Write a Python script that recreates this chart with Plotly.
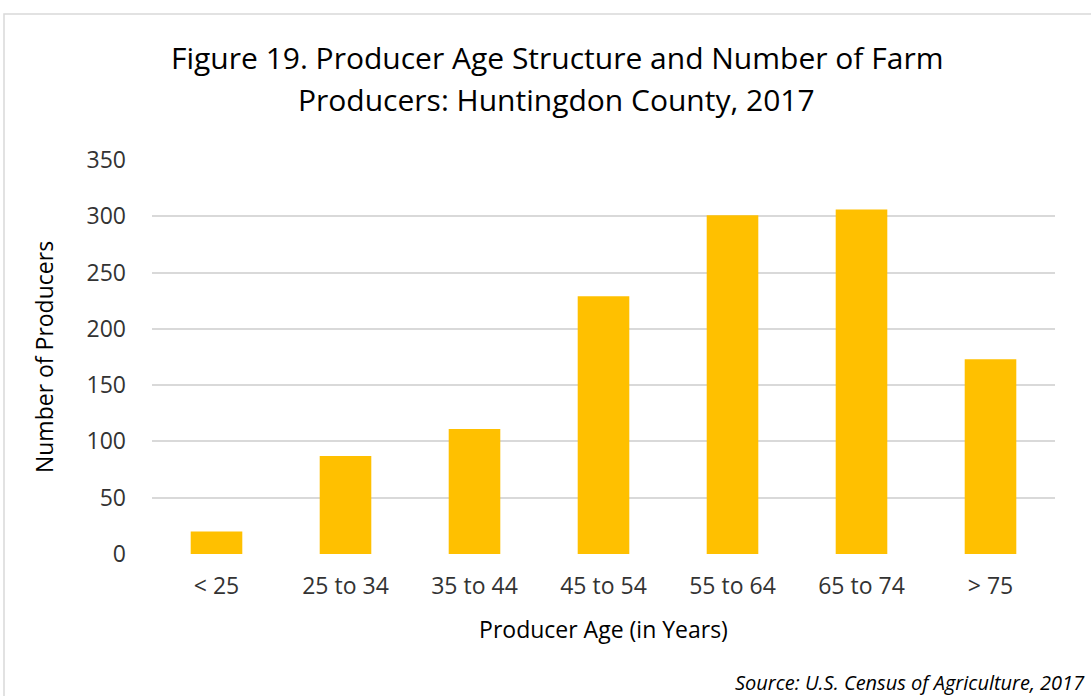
import plotly.graph_objects as go

age_groups = ['< 25', '25 to 34', '35 to 44', '45 to 54', '55 to 64', '65 to 74', '> 75']
producers = [20, 87, 111, 229, 301, 306, 173]
y_ticks = [0, 50, 100, 150, 200, 250, 300, 350]
title_lines = ['Figure 19. Producer Age Structure and Number of Farm',
               'Producers: Huntingdon County, 2017']
source_text = 'Source: U.S. Census of Agriculture, 2017'

font_family = "'Open Sans', sans-serif"

fig = go.Figure()

fig.add_trace(go.Bar(x=age_groups,
                     y=producers,
                     marker=dict(color='#FFC000', line=dict(width=0)),
                     showlegend=False))

fig.update_layout(
    width=1091, height=696,
    margin=dict(l=152, r=36, t=160, b=142),
    paper_bgcolor='white', plot_bgcolor='white',
    bargap=0.6,
    font=dict(family=font_family, color='#333333', size=23))

fig.update_yaxes(range=[0, 350], tickvals=y_ticks,
                 showgrid=True, gridcolor='#d9d9d9', gridwidth=1.5,
                 zeroline=False, showline=False, ticks='',
                 tickfont=dict(size=23, color='#333333'),
                 ticklabelstandoff=25,
                 title=dict(text='Number of Producers', standoff=26,
                            font=dict(size=23, color='#000000')))

fig.update_xaxes(showgrid=False, showline=False, ticks='',
                 tickfont=dict(size=23, color='#333333'),
                 ticklabelstandoff=16,
                 title=dict(text='Producer Age (in Years)', standoff=21,
                            font=dict(size=23, color='#000000')))

# outer border of the chart box
fig.add_shape(type='rect', xref='paper', yref='paper',
              x0=-0.1639, x1=1.043, y0=-0.37, y1=1.3706,
              line=dict(color='#d9d9d9', width=1.5), fillcolor='rgba(0,0,0,0)',
              layer='below')

# two title lines, spaced like the original
for txt, yy in zip(title_lines, [1.2614, 1.1523]):
    fig.add_annotation(text=txt, xref='paper', yref='paper', x=0.448, y=yy,
                       xanchor='center', yanchor='middle', showarrow=False,
                       font=dict(size=30, color='#000000'))

fig.add_annotation(text='<i>' + source_text + '</i>',
                   xref='paper', yref='paper', x=1.0354, y=-0.327,
                   xanchor='right', yanchor='middle', showarrow=False,
                   font=dict(size=20, color='#000000'))

fig.write_html("out.html", config={'displayModeBar': False},
               post_script="document.body.style.margin='0px';")
